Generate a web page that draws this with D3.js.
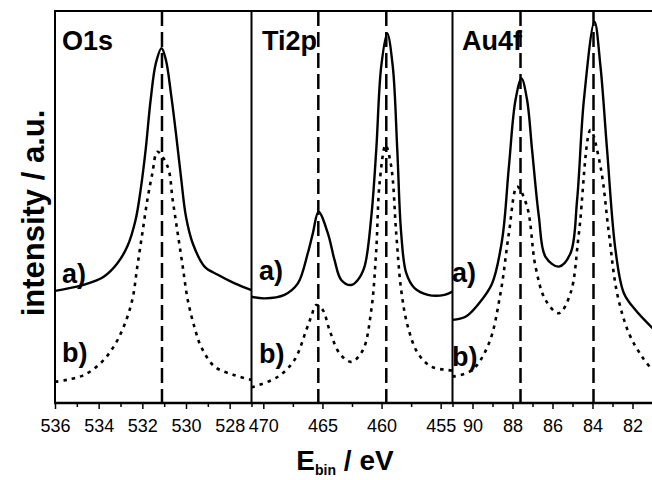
<!DOCTYPE html>
<html>
<head>
<meta charset="utf-8">
<script src="https://cdn.jsdelivr.net/npm/d3@7"></script>
<style>
  html, body { margin: 0; padding: 0; background: #fff; }
  svg { display: block; font-family: "Liberation Sans", Arial, Helvetica, sans-serif; }
</style>
</head>
<body>
<svg id="chart" width="652" height="480"></svg>
<script>
// ---------------- DATA ----------------
const panelTitles = ["O1s", "Ti2p", "Au4f"];
const panelDomains = [[536, 527], [471, 454], [91, 81]];
const o1sTicks = [536, 534, 532, 530, 528];
const o1sMinorTicks = [535, 533, 531, 529, 527];
const ti2pTicks = [470, 465, 460, 455];
const ti2pMinorTicks = [467.5, 462.5, 457.5];
const au4fTicks = [90, 88, 86, 84, 82];
const au4fMinorTicks = [91, 89, 87, 85, 83, 81];
const peakPositions = [[531.1], [465.35, 459.6], [87.6, 83.95]];

// O1s, curve a) (solid)
const o1sEnergyA = [536.0, 535.0, 534.38, 533.77, 533.15, 532.69, 532.31, 532.08, 531.85, 531.62, 531.38, 531.12, 530.92, 530.69, 530.46, 530.23, 530.0, 529.69, 529.15, 528.54, 527.77, 527.0];
const o1sIntensityA = [28.6, 29.7, 30.7, 32.2, 35.6, 39.9, 46.7, 54.3, 64.5, 77.3, 86.7, 90.5, 87.5, 79.0, 68.8, 57.7, 47.5, 40.7, 34.8, 32.7, 30.5, 28.8];
// O1s, curve b) (dotted)
const o1sEnergyB = [536.0, 535.46, 534.69, 533.92, 533.31, 532.85, 532.46, 532.23, 532.0, 531.77, 531.54, 531.31, 530.84, 530.61, 530.38, 530.15, 529.92, 529.62, 529.31, 528.69, 527.77, 527.0];
const o1sIntensityB = [5.4, 5.9, 7.1, 10.1, 14.4, 19.5, 26.3, 34.8, 43.3, 51.8, 58.6, 64.1, 60.3, 51.8, 43.3, 34.8, 26.3, 19.5, 14.4, 9.3, 7.1, 5.9];

// Ti2p, curve a) (solid)
const ti2pEnergyA = [471.0, 469.9, 468.21, 467.08, 466.24, 465.81, 465.33, 464.54, 463.98, 463.41, 462.57, 462.01, 461.44, 460.87, 460.45, 460.03, 459.52, 459.05, 458.67, 458.34, 457.91, 457.21, 456.08, 454.67, 454.0];
const ti2pIntensityA = [27.1, 26.7, 27.6, 30.5, 38.2, 43.3, 48.8, 43.3, 36.5, 31.4, 30.1, 31.4, 34.8, 47.5, 64.5, 85.8, 94.3, 85.8, 64.5, 43.3, 33.1, 29.3, 27.6, 27.6, 28.4];
// Ti2p, curve b) (dotted)
const ti2pEnergyB = [471.0, 470.75, 468.77, 467.36, 466.37, 465.95, 465.53, 464.97, 464.4, 463.56, 462.57, 461.58, 460.87, 460.45, 460.17, 459.66, 459.18, 458.76, 458.34, 457.78, 456.93, 455.8, 454.39, 454.0];
const ti2pIntensityB = [4.0, 4.2, 6.7, 11.0, 18.6, 22.0, 25.0, 23.7, 18.6, 12.7, 10.5, 13.5, 23.7, 39.0, 56.0, 65.8, 60.3, 43.3, 28.8, 19.5, 12.7, 9.3, 8.4, 8.3];

// Au4f, curve a) (solid)
const au4fEnergyA = [91.0, 90.35, 89.68, 89.02, 88.52, 88.18, 87.85, 87.55, 87.27, 87.02, 86.68, 86.35, 85.68, 85.1, 84.77, 84.43, 83.9, 83.6, 83.27, 82.85, 82.43, 81.85, 81.0];
const au4fIntensityA = [21.2, 22.0, 25.4, 30.5, 41.6, 60.3, 77.3, 82.8, 77.3, 64.5, 47.5, 37.3, 34.8, 38.2, 51.8, 77.3, 97.3, 85.8, 64.5, 39.0, 28.0, 23.7, 19.1];
// Au4f, curve b) (dotted)
const au4fEnergyB = [91.0, 90.02, 89.18, 88.6, 88.18, 87.77, 87.27, 86.85, 86.35, 85.68, 85.1, 84.68, 84.1, 83.6, 83.18, 82.77, 82.18, 81.52, 81.0];
const au4fIntensityB = [6.7, 8.4, 15.2, 28.0, 43.3, 55.2, 50.1, 34.8, 26.3, 22.9, 28.0, 43.3, 69.6, 60.3, 43.3, 28.0, 17.8, 11.8, 8.4];

const seriesLabels = ["a)", "b)"];

// ---------------- LAYOUT ----------------
const svg = d3.select("#chart");
const frameTop = 11, frameBottom = 403, frameLeft = 55, frameRight = 652;
const panelBounds = [[55, 251.5], [251.5, 452.5], [452.5, 652.5]];
const y = d3.scaleLinear().domain([0, 100]).range([frameBottom, frameTop]);

const panels = [
  { title: panelTitles[0], domain: panelDomains[0], ticks: o1sTicks, minor: o1sMinorTicks, peaks: peakPositions[0],
    a: d3.zip(o1sEnergyA, o1sIntensityA), b: d3.zip(o1sEnergyB, o1sIntensityB),
    titleX: 62, aPos: [62, 283], bPos: [62, 362] },
  { title: panelTitles[1], domain: panelDomains[1], ticks: ti2pTicks, minor: ti2pMinorTicks, peaks: peakPositions[1],
    a: d3.zip(ti2pEnergyA, ti2pIntensityA), b: d3.zip(ti2pEnergyB, ti2pIntensityB),
    titleX: 262, aPos: [259, 280], bPos: [259, 363] },
  { title: panelTitles[2], domain: panelDomains[2], ticks: au4fTicks, minor: au4fMinorTicks, peaks: peakPositions[2],
    a: d3.zip(au4fEnergyA, au4fIntensityA), b: d3.zip(au4fEnergyB, au4fIntensityB),
    titleX: 462, aPos: [452, 282], bPos: [452, 366] }
];

const defs = svg.append("defs");

panels.forEach((p, i) => {
  const [x0, x1] = panelBounds[i];
  const x = d3.scaleLinear().domain(p.domain).range([x0, x1]);
  defs.append("clipPath").attr("id", "clip" + i)
    .append("rect").attr("x", x0).attr("y", frameTop).attr("width", x1 - x0).attr("height", frameBottom - frameTop);

  const g = svg.append("g");
  const plot = g.append("g").attr("clip-path", `url(#clip${i})`);

  plot.selectAll("line.peak").data(p.peaks).join("line")
    .attr("class", "peak")
    .attr("x1", d => x(d)).attr("x2", d => x(d))
    .attr("y1", frameTop).attr("y2", frameBottom)
    .attr("stroke", "#000").attr("stroke-width", 2.5)
    .attr("stroke-dasharray", "15,6");

  const line = d3.line().x(d => x(d[0])).y(d => y(d[1])).curve(d3.curveCatmullRom.alpha(0.5));

  plot.append("path").datum(p.b)
    .attr("d", line).attr("fill", "none").attr("stroke", "#000")
    .attr("stroke-width", 2.6).attr("stroke-dasharray", "3.5,5");

  plot.append("path").datum(p.a)
    .attr("d", line).attr("fill", "none").attr("stroke", "#000")
    .attr("stroke-width", 2.4).attr("stroke-linejoin", "round");

  const major = d3.axisBottom(x).tickValues(p.ticks).tickSize(6).tickPadding(10).tickFormat(d3.format("d"));
  const minor = d3.axisBottom(x).tickValues(p.minor).tickSize(4).tickFormat("");
  const ga = g.append("g").attr("transform", `translate(0,${frameBottom})`).call(major);
  const gm = g.append("g").attr("transform", `translate(0,${frameBottom})`).call(minor);
  [ga, gm].forEach(s => {
    s.select(".domain").remove();
    s.selectAll(".tick line").attr("stroke", "#000").attr("stroke-width", 1.5);
  });
  ga.selectAll(".tick text")
    .attr("font-size", 18).attr("fill", "#000")
    .attr("font-family", "Liberation Sans, Arial, sans-serif");

  g.append("text").attr("x", p.titleX).attr("y", 50)
    .attr("font-size", 27).attr("font-weight", "bold").text(p.title);
  g.append("text").attr("x", p.aPos[0]).attr("y", p.aPos[1])
    .attr("font-size", 27).attr("font-weight", "bold").text(seriesLabels[0]);
  g.append("text").attr("x", p.bPos[0]).attr("y", p.bPos[1])
    .attr("font-size", 27).attr("font-weight", "bold").text(seriesLabels[1]);
});

// frame
svg.append("line").attr("x1", frameLeft).attr("x2", frameRight).attr("y1", frameTop).attr("y2", frameTop)
  .attr("stroke", "#000").attr("stroke-width", 2);
svg.append("line").attr("x1", frameLeft).attr("x2", frameLeft).attr("y1", frameTop - 1).attr("y2", frameBottom + 1)
  .attr("stroke", "#000").attr("stroke-width", 2);
svg.append("line").attr("x1", frameLeft - 1).attr("x2", frameRight).attr("y1", frameBottom).attr("y2", frameBottom)
  .attr("stroke", "#000").attr("stroke-width", 2.5);
[251.5, 452.5].forEach(xx => {
  svg.append("line").attr("x1", xx).attr("x2", xx).attr("y1", frameTop).attr("y2", frameBottom)
    .attr("stroke", "#000").attr("stroke-width", 2);
});

// axis titles
svg.append("text")
  .attr("transform", "translate(44,213) rotate(-90)")
  .attr("text-anchor", "middle")
  .attr("font-size", 31).attr("font-weight", "bold")
  .text("intensity / a.u.");

const xt = svg.append("text").attr("x", 345).attr("y", 470)
  .attr("text-anchor", "middle").attr("font-size", 28).attr("font-weight", "bold");
xt.append("tspan").text("E");
xt.append("tspan").attr("font-size", 14).attr("dy", 5).text("bin");
xt.append("tspan").attr("dy", -5).text(" / eV");
</script>
</body>
</html>
